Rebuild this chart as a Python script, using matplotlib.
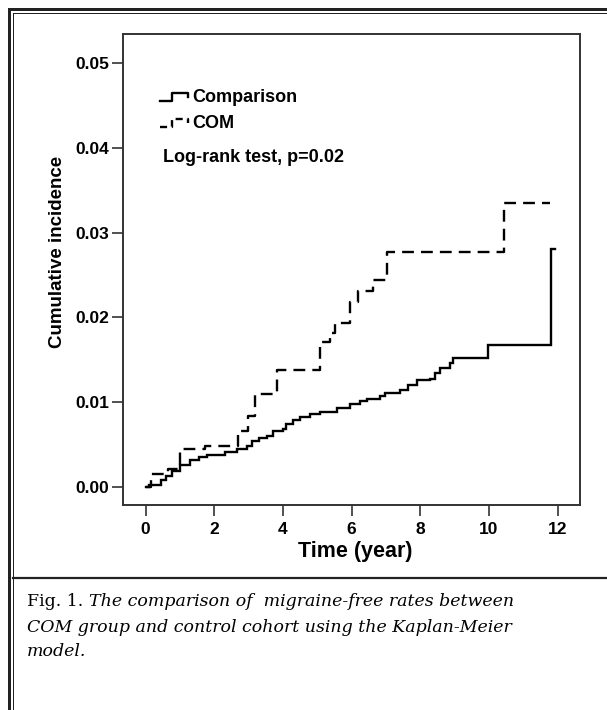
"""Kaplan-Meier cumulative incidence, COM vs comparison cohort"""
import matplotlib
matplotlib.use("Agg")
import matplotlib.pyplot as plt
from matplotlib.lines import Line2D

# Step curves (time in years, cumulative incidence)
comp_time = [0, 0.1, 0.45, 0.6, 0.76, 1.0, 1.29, 1.55, 1.78, 2.3, 2.65, 2.94,
             3.1, 3.3, 3.52, 3.71, 4.01, 4.1, 4.3, 4.49, 4.8, 5.08, 5.56, 5.95,
             6.24, 6.44, 6.82, 6.97, 7.41, 7.65, 7.89, 8.28, 8.43, 8.57, 8.86,
             8.96, 9.98, 11.8, 11.92]
comp_inc = [0, 0.0003, 0.0008, 0.0013, 0.0019, 0.0026, 0.0032, 0.0035, 0.0038,
            0.0041, 0.0045, 0.0048, 0.0054, 0.0058, 0.0060, 0.0066, 0.0069,
            0.0075, 0.0079, 0.0083, 0.0086, 0.0089, 0.0093, 0.0098, 0.0102,
            0.0104, 0.0107, 0.0111, 0.0114, 0.0120, 0.0126, 0.0128, 0.0134,
            0.0140, 0.0146, 0.0152, 0.0168, 0.0281, 0.0281]

com_time = [0, 0.17, 0.66, 1.0, 1.73, 2.70, 2.99, 3.18, 3.82, 5.08, 5.37, 5.52,
            5.95, 6.19, 6.63, 7.02, 10.44, 11.78]
com_inc = [0, 0.0015, 0.0022, 0.0045, 0.0049, 0.0066, 0.0084, 0.0110, 0.0138,
           0.0171, 0.0182, 0.0193, 0.0218, 0.0231, 0.0244, 0.0277, 0.0335, 0.0335]

x_ticks = [0, 2, 4, 6, 8, 10, 12]
y_ticks = [0.00, 0.01, 0.02, 0.03, 0.04, 0.05]
series_names = ["Comparison", "COM"]
stat_note = "Log-rank test, p=0.02"

W, H = 607, 710
plt.rcParams['font.family'] = ['Liberation Sans', 'DejaVu Sans']
fig = plt.figure(figsize=(W / 100, H / 100), dpi=100)


def fx(px):
    return px / W


def fy(py):
    return 1 - py / H


ax = fig.add_axes([fx(123), fy(505), fx(580) - fx(123), fy(34) - fy(505)])

ax.step(comp_time, comp_inc, where='post', color='black', lw=1.7,
        solid_joinstyle='miter')
ax.step(com_time, com_inc, where='post', color='black', lw=1.7,
        linestyle=(0, (5, 3)))

ax.set_xlim(-0.66, 12.65)
ax.set_ylim(-0.0021, 0.0534)
ax.set_xticks(x_ticks)
ax.set_yticks(y_ticks)
ax.set_xticklabels([str(t) for t in x_ticks], fontsize=12.5, fontweight='bold')
ax.set_yticklabels([f"{v:.2f}" for v in y_ticks], fontsize=12.5, fontweight='bold')
ax.tick_params(length=8, width=1.2, color='#333333', direction='out')
ax.tick_params(axis='y', pad=2)
ax.tick_params(axis='x', pad=4)
for sp in ax.spines.values():
    sp.set_linewidth(1.4)
    sp.set_color('#333333')


# hand-drawn legend glyphs (small step shapes) in pixel positions
def glyph(y0, ls):
    xs = [160, 172, 172, 188, 188]
    ys = [y0 + 3, y0 + 3, y0 - 5, y0 - 5, y0 - 1]
    fig.add_artist(Line2D([fx(v) for v in xs], [fy(v) for v in ys],
                          color='black', lw=1.7, linestyle=ls))


glyph(98, '-')
glyph(124, (0, (3, 2)))
fig.text(fx(192), fy(98), series_names[0], fontsize=13, fontweight='bold',
         va='center', ha='left')
fig.text(fx(192), fy(124), series_names[1], fontsize=13, fontweight='bold',
         va='center', ha='left')
fig.text(fx(163), fy(157), stat_note, fontsize=13, fontweight='bold',
         va='center', ha='left')

fig.text(fx(58), fy(252), "Cumulative incidence", fontsize=13.5, fontweight='bold',
         rotation=90, ha='center', va='center')
fig.text(fx(355), fy(551), "Time (year)", fontsize=15.5, fontweight='bold',
         ha='center', va='center')

# page frame: double rule on top and left, rule above caption
frame = [
    ([9, 9], [9, H], 3.0), ([13, 13], [13, H], 1.0),
    ([9, W], [9, 9], 3.0), ([13, W], [13, 13], 1.0),
    ([13, W], [578, 578], 2.2),
]
for xs, ys, lw in frame:
    fig.add_artist(Line2D([fx(v) for v in xs], [fy(v) for v in ys],
                          color='#222222', lw=lw * 0.72))

# caption
cap_font = ['DejaVu Serif']
cap_lines = [
    ("Fig. 1. ", "The comparison of  migraine-free rates between"),
    ("", "COM group and control cohort using the Kaplan-Meier"),
    ("", "model."),
]
renderer = fig.canvas.get_renderer()
for i, (plain, ital) in enumerate(cap_lines):
    y = fy(602 + i * 25)
    x = fx(27)
    if plain:
        t = fig.text(x, y, plain, fontsize=12.5, family=cap_font, va='center')
        bb = t.get_window_extent(renderer)
        x = fx(bb.x1)
    fig.text(x, y, ital, fontsize=12.5, family=cap_font, style='italic',
             va='center')

fig.savefig("out.png", dpi=100)
